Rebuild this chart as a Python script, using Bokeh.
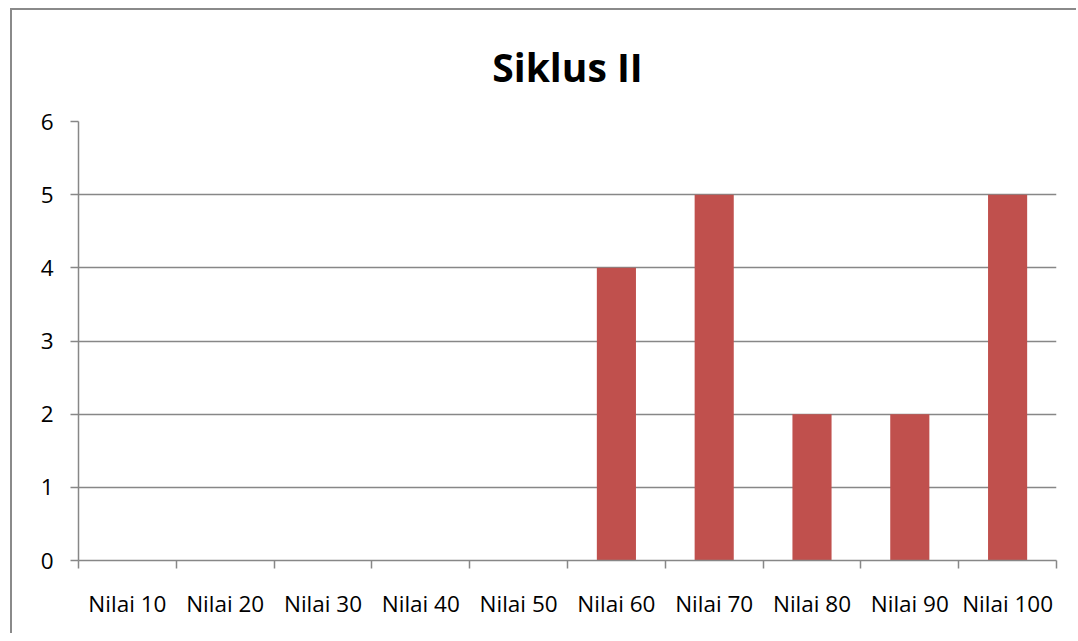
from bokeh.plotting import figure
from bokeh.models import Range1d, LinearAxis, FixedTicker, Title
from bokeh.embed import file_html
from bokeh.resources import INLINE

categories = ["Nilai 10", "Nilai 20", "Nilai 30", "Nilai 40", "Nilai 50",
              "Nilai 60", "Nilai 70", "Nilai 80", "Nilai 90", "Nilai 100"]
values = [0, 0, 0, 0, 0, 4, 5, 2, 2, 5]
y_ticks = [0, 1, 2, 3, 4, 5, 6]
title_text = "Siklus II"

FONT = "Open Sans"
GRAY = "#878787"

n = len(categories)
centers = [i + 0.5 for i in range(n)]
edges = list(range(n + 1))

p = figure(width=1066, height=625, output_backend="svg", toolbar_location=None,
           x_range=Range1d(0, n), y_range=Range1d(0, 6),
           x_axis_location=None, y_axis_location=None,
           min_border_left=66, min_border_right=22,
           min_border_top=111, min_border_bottom=75)
p.outline_line_color = None
p.background_fill_color = "white"
p.border_fill_color = "white"
p.styles = {"border-left": "2px solid #8a8a8a", "border-top": "2px solid #8a8a8a",
            "margin-left": "10px", "margin-top": "8px"}

p.vbar(x=centers, top=values, width=0.4, color="#C0504D", line_color=None)

# title
t = Title(text=title_text, align="center", vertical_align="top", text_font=FONT,
          text_font_size="39px", text_font_style="bold", text_color="black",
          standoff=54)
p.add_layout(t, "above")

# y axis
yax = LinearAxis(ticker=FixedTicker(ticks=y_ticks))
yax.axis_line_color = GRAY
yax.axis_line_width = 1.5
yax.major_tick_line_color = GRAY
yax.major_tick_line_width = 1.5
yax.major_tick_out = 8
yax.major_tick_in = 0
yax.minor_tick_line_color = None
yax.major_label_text_font = FONT
yax.major_label_text_font_size = "22.5px"
yax.major_label_text_color = "black"
yax.major_label_standoff = 17
p.add_layout(yax, "left")

# x axis: labels at category centres, tick marks (minor) at boundaries
xc = LinearAxis(ticker=FixedTicker(ticks=centers, minor_ticks=edges),
                major_label_overrides={c: lab for c, lab in zip(centers, categories)})
xc.axis_line_color = GRAY
xc.axis_line_width = 1.5
xc.major_tick_line_color = None
xc.major_tick_out = 0
xc.major_tick_in = 0
xc.minor_tick_line_color = GRAY
xc.minor_tick_line_width = 1.5
xc.minor_tick_out = 8
xc.minor_tick_in = 0
xc.major_label_text_font = FONT
xc.major_label_text_font_size = "22.5px"
xc.major_label_text_color = "black"
xc.major_label_standoff = 19
p.add_layout(xc, "below")

p.xgrid.visible = False
p.ygrid.grid_line_color = GRAY
p.ygrid.grid_line_width = 1.5
p.ygrid.ticker = FixedTicker(ticks=y_ticks)

open("out.html", "w").write(file_html(p, INLINE))
